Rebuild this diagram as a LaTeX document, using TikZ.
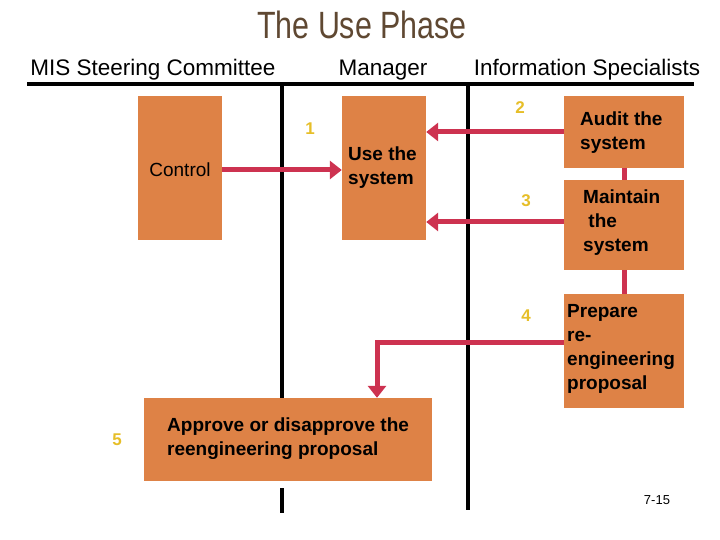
\documentclass[tikz,border=0pt]{standalone}
\usepackage{fontspec}
\setmainfont{Liberation Sans}
\usetikzlibrary{arrows.meta}
\definecolor{boxc}{RGB}{222,130,70}
\definecolor{linkc}{RGB}{205,50,80}
\definecolor{numc}{RGB}{230,190,40}
\definecolor{titlec}{RGB}{95,72,50}
\begin{document}
\begin{tikzpicture}[x=1pt,y=-1pt,
  box/.style={fill=boxc,draw=none},
  btxt/.style={font=\fontsize{19}{24}\selectfont\bfseries,align=left,anchor=north west,inner sep=0pt},
  num/.style={text=numc,font=\fontsize{17}{20}\selectfont\bfseries},
  head/.style={font=\fontsize{22.5}{26}\selectfont},
  link/.style={draw=linkc,line width=5pt},
  arr/.style={link,-{Triangle[length=12pt,width=18pt]}},
  lane/.style={line width=4pt}]
\useasboundingbox (0,0) rectangle (720,540);
\node[text=titlec,font=\fontsize{38}{40}\selectfont,xscale=0.8] (title) at (362,25) {The Use Phase};
\node[head] (h1) at (153,70) {MIS Steering Committee};
\node[head] (h2) at (383,70) {Manager};
\node[head] (h3) at (587,70) {Information Specialists};
\draw[lane] (27,84) -- (694,84);
\draw[lane] (282,84) -- (282,398);
\draw[lane] (282,488) -- (282,513);
\draw[lane] (468,84) -- (468,510);
\node[box,minimum width=84pt,minimum height=144pt] (ctrl) at (180,168) {};
\node[font=\fontsize{19}{24}\selectfont] at (180,170) {Control};
\node[box,minimum width=84pt,minimum height=144pt] (use) at (384,168) {};
\node[btxt] at (348,147) {Use the\\system};
\node[box,minimum width=120pt,minimum height=72pt] (audit) at (624,132) {};
\node[btxt] at (580,112) {Audit the\\system};
\node[box,minimum width=120pt,minimum height=90pt] (maint) at (624,225) {};
\node[btxt] at (583,190) {Maintain\\\ the\\system};
\node[box,minimum width=120pt,minimum height=114pt] (prep) at (624,351) {};
\node[btxt] at (567,304) {Prepare\\re-\\engineering\\proposal};
\node[box,minimum width=288pt,minimum height=83pt] (appr) at (288,439.5) {};
\node[btxt] at (167,418) {Approve or disapprove the\\reengineering proposal};
\node[num] (n1) at (310,129) {1};
\node[num] (n2) at (520,108) {2};
\node[num] (n3) at (526,201) {3};
\node[num] (n4) at (526,316) {4};
\node[num] (n5) at (117,440) {5};
\node[font=\fontsize{13}{15}\selectfont] (pg) at (657,500) {7-15};
\draw[arr] (ctrl.east |- 0,170) -- (use.west |- 0,170);
\draw[arr] (audit.west) -- (use.east |- audit.west);
\draw[arr] (maint.west |- 0,222) -- (use.east |- 0,222);
\draw[arr] (prep.west |- 0,342) -- (377,342) -- (appr.north -| 377,0);
\draw[link] (audit.south) -- (maint.north);
\draw[link] (maint.south) -- (prep.north);
\end{tikzpicture}
\end{document}
